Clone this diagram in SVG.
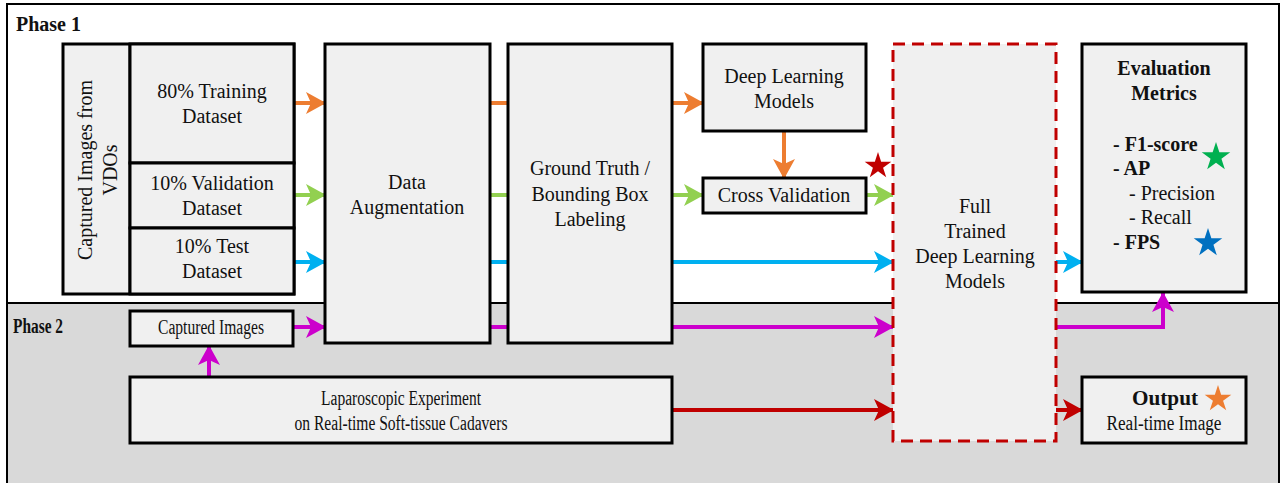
<svg xmlns="http://www.w3.org/2000/svg" width="1280" height="483" viewBox="0 0 1280 483">
<style>
.box{fill:#f0f0f0;stroke:#000;stroke-width:3}
.t{font-size:20px;fill:#111;text-anchor:middle}
.b{font-weight:bold}
.l{text-anchor:start}
.c{stroke-width:4;fill:none}
</style>
<defs>
<marker id="aO" markerUnits="userSpaceOnUse" markerWidth="20" markerHeight="22" refX="19" refY="11" orient="auto"><path d="M0,0 L20,11 L0,22 L5,11 z" fill="#ed7d31"/></marker>
<marker id="aG" markerUnits="userSpaceOnUse" markerWidth="20" markerHeight="22" refX="19" refY="11" orient="auto"><path d="M0,0 L20,11 L0,22 L5,11 z" fill="#92d050"/></marker>
<marker id="aB" markerUnits="userSpaceOnUse" markerWidth="20" markerHeight="22" refX="19" refY="11" orient="auto"><path d="M0,0 L20,11 L0,22 L5,11 z" fill="#00b0f0"/></marker>
<marker id="aM" markerUnits="userSpaceOnUse" markerWidth="20" markerHeight="22" refX="19" refY="11" orient="auto"><path d="M0,0 L20,11 L0,22 L5,11 z" fill="#cc00cc"/></marker>
<marker id="aR" markerUnits="userSpaceOnUse" markerWidth="20" markerHeight="22" refX="19" refY="11" orient="auto"><path d="M0,0 L20,11 L0,22 L5,11 z" fill="#c00000"/></marker>
<path id="star" d="M0,-1 L0.2245,-0.309 L0.951,-0.309 L0.363,0.118 L0.588,0.809 L0,0.382 L-0.588,0.809 L-0.363,0.118 L-0.951,-0.309 L-0.2245,-0.309 z"/>
</defs>
<g font-family="Liberation Serif, DejaVu Serif, serif">
<g id="background">
<rect x="7" y="4" width="1272" height="299" fill="#fff" stroke="#000" stroke-width="2"/>
<rect x="7" y="303" width="1272" height="190" fill="#d9d9d9" stroke="#000" stroke-width="2"/>
<text class="t b l" x="16" y="31">Phase 1</text>
<text class="t b l" x="13" y="333" textLength="50" lengthAdjust="spacingAndGlyphs">Phase 2</text>
</g>

<g id="connectors">
<line class="c" stroke="#ed7d31" x1="294" y1="103" x2="325" y2="103" marker-end="url(#aO)"/>
<line class="c" stroke="#ed7d31" x1="490" y1="103" x2="508" y2="103"/>
<line class="c" stroke="#ed7d31" x1="672" y1="103" x2="703" y2="103" marker-end="url(#aO)"/>
<line class="c" stroke="#ed7d31" x1="784" y1="131" x2="784" y2="178" marker-end="url(#aO)"/>
<line class="c" stroke="#92d050" x1="294" y1="195" x2="325" y2="195" marker-end="url(#aG)"/>
<line class="c" stroke="#92d050" x1="490" y1="195" x2="508" y2="195"/>
<line class="c" stroke="#92d050" x1="672" y1="195" x2="703" y2="195" marker-end="url(#aG)"/>
<line class="c" stroke="#92d050" x1="866" y1="195" x2="893" y2="195" marker-end="url(#aG)"/>
<line class="c" stroke="#00b0f0" x1="294" y1="262" x2="325" y2="262" marker-end="url(#aB)"/>
<line class="c" stroke="#00b0f0" x1="490" y1="262" x2="508" y2="262"/>
<line class="c" stroke="#00b0f0" x1="672" y1="262" x2="893" y2="262" marker-end="url(#aB)"/>
<line class="c" stroke="#00b0f0" x1="1056" y1="262" x2="1082" y2="262" marker-end="url(#aB)"/>
<line class="c" stroke="#cc00cc" x1="293" y1="327" x2="325" y2="327" marker-end="url(#aM)"/>
<line class="c" stroke="#cc00cc" x1="490" y1="327" x2="508" y2="327"/>
<line class="c" stroke="#cc00cc" x1="672" y1="327" x2="893" y2="327" marker-end="url(#aM)"/>
<polyline class="c" stroke="#cc00cc" points="1056,327 1163,327 1163,293" marker-end="url(#aM)"/>
<line class="c" stroke="#cc00cc" x1="209" y1="377" x2="209" y2="346" marker-end="url(#aM)"/>
<line class="c" stroke="#c00000" x1="672" y1="410" x2="893" y2="410" marker-end="url(#aR)"/>
<line class="c" stroke="#c00000" x1="1056" y1="410" x2="1082" y2="410" marker-end="url(#aR)"/>
</g>

<g id="captured-vdos">
<rect class="box" x="63" y="44" width="231" height="250"/>
<line x1="130" y1="44" x2="130" y2="294" stroke="#000" stroke-width="3"/>
<text class="t" transform="translate(92,170) rotate(-90)">Captured Images from</text>
<text class="t" transform="translate(117,170) rotate(-90)">VDOs</text>
</g>
<g id="training">
<rect class="box" x="130" y="44" width="164" height="119"/>
<text class="t" x="212" y="98">80% Training</text>
<text class="t" x="212" y="123">Dataset</text>
</g>
<g id="validation">
<rect class="box" x="130" y="163" width="164" height="65"/>
<text class="t" x="212" y="190">10% Validation</text>
<text class="t" x="212" y="215">Dataset</text>
</g>
<g id="test">
<rect class="box" x="130" y="228" width="164" height="66"/>
<text class="t" x="212" y="253">10% Test</text>
<text class="t" x="212" y="278">Dataset</text>
</g>
<g id="augmentation">
<rect class="box" x="325" y="44" width="165" height="299"/>
<text class="t" x="407" y="189">Data</text>
<text class="t" x="407" y="214">Augmentation</text>
</g>
<g id="ground-truth">
<rect class="box" x="508" y="44" width="164" height="299"/>
<text class="t" x="590" y="175">Ground Truth /</text>
<text class="t" x="590" y="201">Bounding Box</text>
<text class="t" x="590" y="226">Labeling</text>
</g>
<g id="dl-models">
<rect class="box" x="703" y="44" width="163" height="87"/>
<text class="t" x="784" y="83">Deep Learning</text>
<text class="t" x="784" y="108">Models</text>
</g>
<g id="cross-validation">
<rect class="box" x="703" y="178" width="163" height="35"/>
<text class="t" x="784" y="202">Cross Validation</text>
</g>
<g id="full-trained">
<rect x="893" y="44" width="163" height="397" fill="#f0f0f0" stroke="#c00000" stroke-width="3" stroke-dasharray="12 7"/>
<text class="t" x="975" y="213">Full</text>
<text class="t" x="975" y="238">Trained</text>
<text class="t" x="975" y="263">Deep Learning</text>
<text class="t" x="975" y="288">Models</text>
</g>
<g id="evaluation">
<rect class="box" x="1082" y="44" width="164" height="248"/>
<text class="t b" x="1164" y="75">Evaluation</text>
<text class="t b" x="1164" y="100">Metrics</text>
<text class="t b l" x="1113" y="151">- F1-score</text>
<text class="t b l" x="1113" y="175">- AP</text>
<text class="t l" x="1129" y="200">- Precision</text>
<text class="t l" x="1129" y="224">- Recall</text>
<text class="t b l" x="1113" y="249">- FPS</text>
</g>
<g id="captured-images">
<rect class="box" x="130" y="311" width="163" height="35"/>
<text class="t" x="211" y="334" textLength="106" lengthAdjust="spacingAndGlyphs">Captured Images</text>
</g>
<g id="laparoscopic">
<rect class="box" x="130" y="377" width="542" height="66"/>
<text class="t" x="401" y="405" textLength="160" lengthAdjust="spacingAndGlyphs">Laparoscopic Experiment</text>
<text class="t" x="401" y="430" textLength="213" lengthAdjust="spacingAndGlyphs">on Real-time Soft-tissue Cadavers</text>
</g>
<g id="output">
<rect class="box" x="1082" y="377" width="164" height="66"/>
<text class="t b" x="1165" y="405" textLength="66" lengthAdjust="spacingAndGlyphs">Output</text>
<text class="t" x="1164" y="430" textLength="115" lengthAdjust="spacingAndGlyphs">Real-time Image</text>
</g>
<g id="stars">
<use href="#star" transform="translate(878,166) scale(14)" fill="#c00000"/>
<use href="#star" transform="translate(1216,157) scale(15)" fill="#00b050"/>
<use href="#star" transform="translate(1208,243) scale(15)" fill="#0070c0"/>
<use href="#star" transform="translate(1218,399) scale(14)" fill="#ed7d31"/>
</g>
</g>
</svg>
